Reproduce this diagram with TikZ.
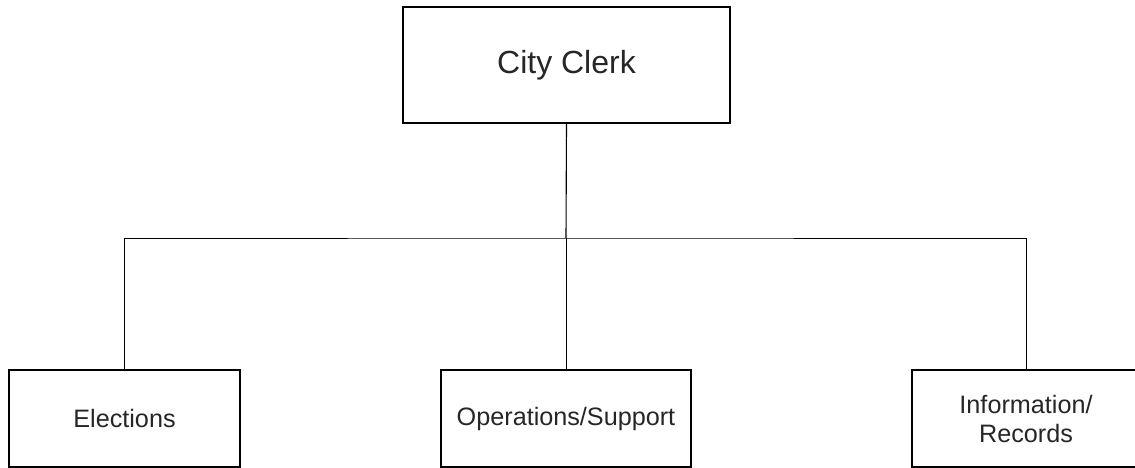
\documentclass[tikz,border=0pt]{standalone}
\usepackage{fontspec}
\setmainfont{Liberation Sans}
\usepackage{tikz}

\begin{document}
\begin{tikzpicture}[x=1pt,y=-1pt]

          \useasboundingbox (0,0) rectangle (1135,468);

          \begin{scope}[every node/.style={rectangle,draw,line width=1.4pt,inner sep=0pt,align=center,text=black!85,font=\fontsize{25.2}{29}\selectfont}]
            \node[minimum width=327pt,minimum height=116pt,font=\fontsize{32}{38}\selectfont] (clerk) at (566.5,65) {City Clerk};
            \node[minimum width=231pt,minimum height=97pt] (elections)  at (124.5,418.5) {Elections};
            \node[minimum width=250pt,minimum height=97pt] (operations) at (566,418.5)   {Operations/Support};
            \node[minimum width=228pt,minimum height=97pt] (records)    at (1026,418.5)  {Information/\\Records};
          \end{scope}

          \coordinate (bus) at (566,238);

          \begin{scope}[line width=0.8pt]
            \draw[line width=1.1pt] (clerk.south) -- (bus);
            \draw (bus) -- (operations.north);
            \draw (elections.north) |- (bus) -| (records.north);
          \end{scope}

        \end{tikzpicture}
\end{document}
